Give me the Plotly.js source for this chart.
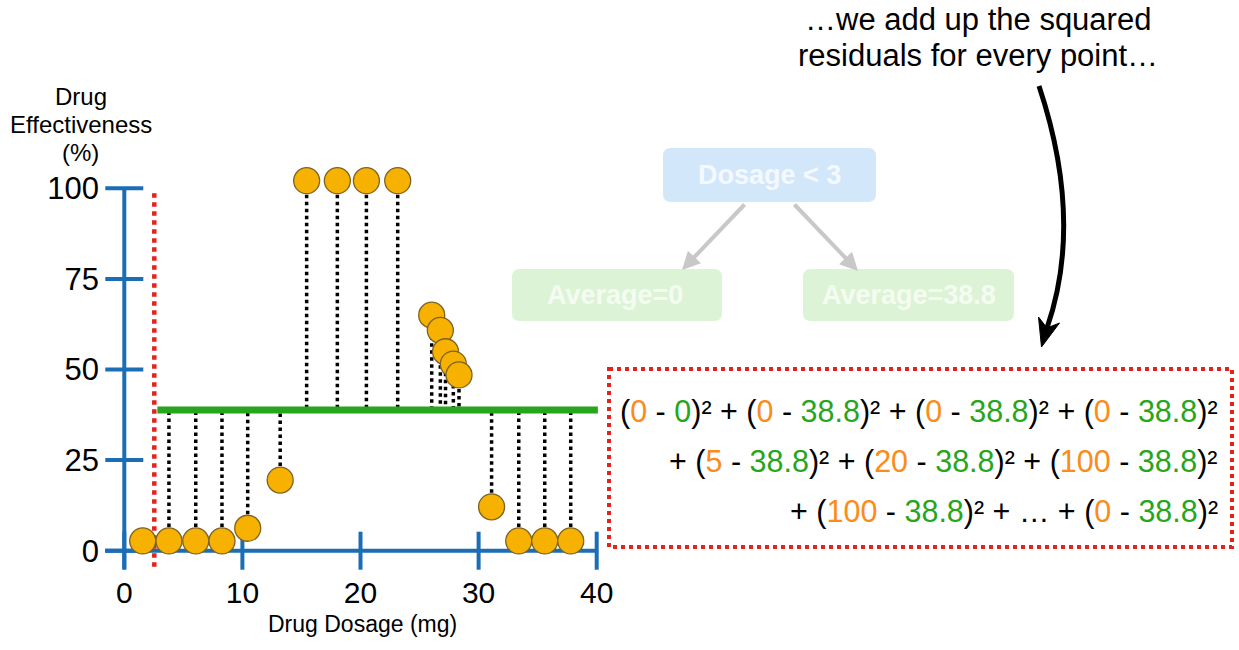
<!DOCTYPE html>
<html>
<head>
<meta charset="utf-8">
<script src="https://cdn.plot.ly/plotly-3.0.1.min.js"></script>
<style>html,body{margin:0;padding:0;background:#fff;}#chart{width:1239px;height:650px;}</style>
</head>
<body>
<div id="chart"></div>
<script>
// ---- data ----
const dosage = [1.56, 3.78, 6.05, 8.27, 10.45, 13.2, 15.44, 18.04, 20.5, 23.15, 26.03, 26.76, 27.2, 27.86, 28.34, 31.1, 33.4, 35.6, 37.8];
const effectiveness = [2.7, 2.7, 2.7, 2.7, 6.2, 19.5, 102.1, 102.1, 102.1, 102.1, 65.0, 60.8, 54.9, 51.5, 48.5, 12.1, 2.7, 2.7, 2.7];
const splitX = 2.54;
const rightAverage = 38.8;
const meanLineX = [2.8, 40.1];
const xTickVals = [0, 10, 20, 30, 40];
const xTickText = ["0", "10", "20", "30", "40"];
const yTickVals = [0, 25, 50, 75, 100];
const yTickText = ["0", "25", "50", "75", "100"];
const xTitle = "Drug Dosage (mg)";
const yTitleLines = ["Drug", "Effectiveness", "(%)"];
const eqLine1 = [[0, 0], [0, 38.8], [0, 38.8], [0, 38.8]];
const eqLine2 = [[5, 38.8], [20, 38.8], [100, 38.8]];
const eqLine3a = [[100, 38.8]];
const eqLine3b = [[0, 38.8]];

// ---- styles ----
const W = 1239, H = 650, L = 100, R = 620, T = 160, B = 572;
const pxPerX = 11.81, pxPerY = 3.624, x0px = 124.3, y0px = 550.7;
const xRange = [-(x0px - L) / pxPerX, (R - x0px) / pxPerX];
const yRange = [-(B - y0px) / pxPerY, (y0px - T) / pxPerY];
const BLUE = '#1b6db5', GREEN = '#27a51b', ORANGE = '#fb8c19', RED = '#e3231c';
const FONT = 'Liberation Sans, Arial, Helvetica, sans-serif';
function fx(p) { return (p - L) / (R - L); }
function fy(p) { return (B - p) / (B - T); }

// residual lines (right leaf only)
const resX = [], resY = [];
dosage.forEach((d, i) => {
  if (d > splitX) { resX.push(d, d, null); resY.push(effectiveness[i], rightAverage, null); }
});

const traces = [
  { x: resX, y: resY, mode: 'lines', line: { color: '#000', width: 3.5, dash: 'dot' }, hoverinfo: 'skip', cliponaxis: false },
  { x: [splitX, splitX], y: [-4.4, 99], mode: 'lines', line: { color: RED, width: 4.5, dash: 'dot' }, hoverinfo: 'skip', cliponaxis: false },
  { x: meanLineX, y: [rightAverage, rightAverage], mode: 'lines', line: { color: GREEN, width: 7 }, hoverinfo: 'skip', cliponaxis: false },
  { x: dosage, y: effectiveness, mode: 'markers', cliponaxis: false,
    marker: { size: 26, color: '#f7b100', line: { color: '#7d6222', width: 1.3 } } }
];

// axis lines and crossing ticks drawn in data coordinates
const tickHalfY = 19 / pxPerY, tickHalfX = 19 / pxPerX;
const shapes = [
  { type: 'line', xref: 'x', yref: 'y', x0: -1.63, x1: 40, y0: 0, y1: 0, line: { color: BLUE, width: 4 }, layer: 'below' },
  { type: 'line', xref: 'x', yref: 'y', x0: 0, x1: 0, y0: -5.1, y1: 100, line: { color: BLUE, width: 4 }, layer: 'below' }
];
xTickVals.forEach(v => shapes.push({ type: 'line', xref: 'x', yref: 'y', x0: v, x1: v, y0: -tickHalfY, y1: tickHalfY, line: { color: BLUE, width: 4 }, layer: 'below' }));
yTickVals.forEach(v => shapes.push({ type: 'line', xref: 'x', yref: 'y', x0: -tickHalfX, x1: tickHalfX, y0: v, y1: v, line: { color: BLUE, width: 4 }, layer: 'below' }));

function roundRect(x0, y0, x1, y1, r) {
  return `M${fx(x0 + r)},${fy(y0)} L${fx(x1 - r)},${fy(y0)} Q${fx(x1)},${fy(y0)} ${fx(x1)},${fy(y0 + r)} ` +
    `L${fx(x1)},${fy(y1 - r)} Q${fx(x1)},${fy(y1)} ${fx(x1 - r)},${fy(y1)} L${fx(x0 + r)},${fy(y1)} ` +
    `Q${fx(x0)},${fy(y1)} ${fx(x0)},${fy(y1 - r)} L${fx(x0)},${fy(y0 + r)} Q${fx(x0)},${fy(y0)} ${fx(x0 + r)},${fy(y0)} Z`;
}
// faded tree boxes
shapes.push({ type: 'path', xref: 'paper', yref: 'paper', path: roundRect(663, 148, 876, 202, 8), fillcolor: '#d3e7fb', line: { width: 0 } });
shapes.push({ type: 'path', xref: 'paper', yref: 'paper', path: roundRect(512, 269, 722, 321, 8), fillcolor: '#ddf3d6', line: { width: 0 } });
shapes.push({ type: 'path', xref: 'paper', yref: 'paper', path: roundRect(803, 269, 1014, 321, 8), fillcolor: '#ddf3d6', line: { width: 0 } });
// equation box
shapes.push({ type: 'rect', xref: 'paper', yref: 'paper', x0: fx(609), x1: fx(1232), y0: fy(369), y1: fy(547), line: { color: RED, width: 4, dash: 'dot' } });
// curved black arrow
shapes.push({ type: 'path', xref: 'paper', yref: 'paper',
  path: `M${fx(1039)},${fy(86)} Q${fx(1084)},${fy(221)} ${fx(1047)},${fy(328)}`, line: { color: '#000', width: 5 } });
shapes.push({ type: 'path', xref: 'paper', yref: 'paper',
  path: `M${fx(1041.5)},${fy(347)} L${fx(1038.5)},${fy(317)} L${fx(1047)},${fy(328)} L${fx(1059.5)},${fy(323)} Z`,
  fillcolor: '#000', line: { color: '#000', width: 1 } });

function term(o, p) {
  return `(<span style="color:${ORANGE}">${o}</span> - <span style="color:${GREEN}">${p}</span>)²`;
}
const line1 = eqLine1.map(t => term(t[0], t[1])).join(' + ');
const line2 = '+ ' + eqLine2.map(t => term(t[0], t[1])).join(' + ');
const line3 = '+ ' + eqLine3a.map(t => term(t[0], t[1])).join(' + ') + ' + … + ' + eqLine3b.map(t => term(t[0], t[1])).join(' + ');

const EQ = 30.5;
const annotations = [
  { xref: 'paper', yref: 'paper', x: fx(978), y: fy(20), text: '…we add up the squared', showarrow: false,
    font: { family: FONT, size: 31, color: '#000' }, xanchor: 'center', yanchor: 'middle' },
  { xref: 'paper', yref: 'paper', x: fx(978), y: fy(55), text: 'residuals for every point…', showarrow: false,
    font: { family: FONT, size: 31, color: '#000' }, xanchor: 'center', yanchor: 'middle' },
  { xref: 'paper', yref: 'paper', x: fx(769.5), y: fy(175), text: '<b>Dosage < 3</b>', showarrow: false,
    font: { family: FONT, size: 27, color: '#f4f9ff' }, xanchor: 'center', yanchor: 'middle' },
  { xref: 'paper', yref: 'paper', x: fx(615), y: fy(295), text: '<b>Average=0</b>', showarrow: false,
    font: { family: FONT, size: 27, color: '#f4fcf2' }, xanchor: 'center', yanchor: 'middle' },
  { xref: 'paper', yref: 'paper', x: fx(908.5), y: fy(295), text: '<b>Average=38.8</b>', showarrow: false,
    font: { family: FONT, size: 27, color: '#f4fcf2' }, xanchor: 'center', yanchor: 'middle' },
  { xref: 'paper', yref: 'paper', x: fx(682), y: fy(270), ax: 64, ay: -67, text: '', showarrow: true,
    arrowcolor: '#c8c8c8', arrowwidth: 4, arrowhead: 2, arrowsize: 0.9 },
  { xref: 'paper', yref: 'paper', x: fx(858), y: fy(271), ax: -65, ay: -68, text: '', showarrow: true,
    arrowcolor: '#c8c8c8', arrowwidth: 4, arrowhead: 2, arrowsize: 0.9 },
  { xref: 'paper', yref: 'paper', x: fx(1220), y: fy(411), text: line1, showarrow: false, align: 'right',
    font: { family: FONT, size: EQ, color: '#000' }, xanchor: 'right', yanchor: 'middle' },
  { xref: 'paper', yref: 'paper', x: fx(1220), y: fy(461), text: line2, showarrow: false, align: 'right',
    font: { family: FONT, size: EQ, color: '#000' }, xanchor: 'right', yanchor: 'middle' },
  { xref: 'paper', yref: 'paper', x: fx(1220), y: fy(511), text: line3, showarrow: false, align: 'right',
    font: { family: FONT, size: EQ, color: '#000' }, xanchor: 'right', yanchor: 'middle' },
  { xref: 'paper', yref: 'paper', x: fx(362), y: fy(624), text: xTitle, showarrow: false,
    font: { family: FONT, size: 23, color: '#000' }, xanchor: 'center', yanchor: 'middle' }
];
const yTitleY = [97, 124.5, 152];
yTitleLines.forEach((t, i) => annotations.push({ xref: 'paper', yref: 'paper', x: fx(80.5), y: fy(yTitleY[i]), text: t,
  showarrow: false, font: { family: FONT, size: 24, color: '#000' }, xanchor: 'center', yanchor: 'middle' }));

const layout = {
  width: W, height: H,
  margin: { l: L, r: W - R, t: T, b: H - B, pad: 0 },
  paper_bgcolor: '#fff', plot_bgcolor: 'rgba(0,0,0,0)',
  showlegend: false,
  font: { family: FONT, color: '#000' },
  xaxis: { range: xRange, tickmode: 'array', tickvals: xTickVals, ticktext: xTickText, ticks: '', showgrid: false,
    zeroline: false, showline: false, tickfont: { family: FONT, size: 30, color: '#000' } },
  yaxis: { range: yRange, tickmode: 'array', tickvals: yTickVals, ticktext: yTickText, ticks: '', showgrid: false,
    zeroline: false, showline: false, tickfont: { family: FONT, size: 31, color: '#000' } },
  shapes: shapes,
  annotations: annotations
};

Plotly.newPlot('chart', traces, layout, { displayModeBar: false, staticPlot: true });
</script>
</body>
</html>
